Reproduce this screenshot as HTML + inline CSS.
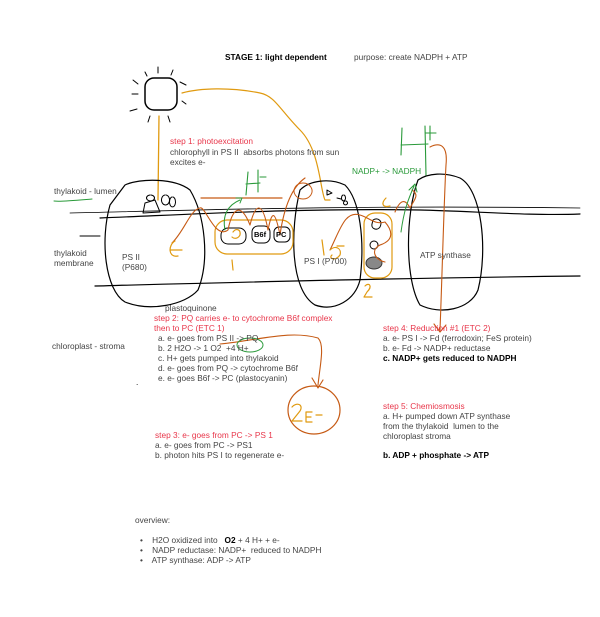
<!DOCTYPE html>
<html><head><meta charset="utf-8"><style>
body{margin:0;background:#fff;width:600px;height:617px;position:relative;overflow:hidden;font-family:"Liberation Sans",sans-serif;font-size:8.3px;color:#444}
.t{position:absolute;white-space:nowrap;line-height:10px}
.r{color:#e8364a}.g{color:#2a9a3a}.b{color:#000;font-weight:bold}
svg{position:absolute;left:0;top:0}
</style></head><body>
<svg width="600" height="617" fill="none" stroke-linecap="round" stroke-linejoin="round">
<rect x="145" y="78" width="32" height="32" rx="9" stroke="#000" stroke-width="1.5"/>
<g stroke="#000" stroke-width="1">
<line x1="145" y1="72" x2="147" y2="76"/><line x1="158" y1="67" x2="158" y2="73"/><line x1="173" y1="70" x2="171" y2="75"/>
<line x1="133" y1="80" x2="138" y2="84"/><line x1="180" y1="82" x2="186" y2="85"/><line x1="132" y1="94" x2="138" y2="94"/>
<line x1="182" y1="101" x2="186" y2="104"/><line x1="130" y1="111" x2="137" y2="109"/><line x1="150" y1="116" x2="148" y2="122"/><line x1="168" y1="116" x2="170" y2="122"/>
</g>
<path d="M159,116 L158,200" stroke="#e09a10" stroke-width="1.3"/>
<path d="M182,93 C200,88 230,87 260,93 C275,96 280,110 300,130 C320,150 320,190 325,200 L330,200" stroke="#e09a10" stroke-width="1.2"/>
<path d="M100,218 C200,214 300,208 420,210 C470,211 530,216 580,214" stroke="#000" stroke-width="1.2"/>
<path d="M70,213 C200,210 350,205 580,208" stroke="#000" stroke-width="0.8"/>
<path d="M95,286 C250,282 400,278 580,276" stroke="#000" stroke-width="1.2"/>
<path d="M80,236 L100,236" stroke="#000"/>
<path d="M54,201 C60,202 80,200 92,199" stroke="#2a9a3a"/>
<path d="M110,205 C100,240 105,290 125,302 C150,312 185,305 198,290 C210,260 205,215 190,190 C175,178 140,178 125,185 Z" stroke="#000" stroke-width="1.2"/>
<path d="M145,203 L155,200 L160,212 L143,213 Z M165,195 a4,5 0 1,0 1,0 M172,197 a3,5 0 1,0 1,0 M150,195 a4,3 0 1,0 1,0" stroke="#000"/>
<path d="M300,190 C290,230 290,290 315,305 C335,312 355,300 360,280 C365,240 360,200 345,185 C330,178 310,180 300,190 Z" stroke="#000" stroke-width="1.2"/>
<path d="M327,190 l5,3 l-5,2 z M337,198 l4,1 M343,195 a2,3 0 1,0 1,0 M345,201 a2,2 0 1,0 1,0" stroke="#000"/>
<path d="M418,180 C405,215 405,280 420,305 C440,315 470,310 478,290 C488,250 482,190 460,178 C445,172 428,173 418,180 Z" stroke="#000" stroke-width="1.2"/>
<rect x="215" y="220" width="78" height="34" rx="12" stroke="#e09a10" stroke-width="1.2"/>
<rect x="221" y="228" width="25" height="16" rx="7" stroke="#000"/>
<rect x="252" y="226" width="18" height="17" rx="6" stroke="#000"/>
<rect x="274" y="227" width="16" height="15" rx="5" stroke="#000"/>
<line x1="201" y1="198" x2="282" y2="198" stroke="#c65a14" stroke-width="1.2"/>
<rect x="364" y="213" width="28" height="65" rx="11" stroke="#e09a10" stroke-width="1.2"/>
<path d="M373,220 c5,-3 10,1 7,7 c-3,4 -9,2 -8,-3 z" stroke="#000"/><circle cx="374" cy="245" r="4" stroke="#000"/>
<ellipse cx="374" cy="263" rx="8" ry="6" fill="#888" stroke="#333"/>
<path d="M172,243 C185,230 190,210 200,208 C205,205 215,240 228,230 C232,210 240,200 250,225 C255,205 262,198 268,230 C272,210 275,210 280,235 C285,200 295,185 305,178 M330,250 C340,230 345,210 360,215 C370,218 375,225 385,222 C392,230 395,240 380,245 C370,250 375,260 385,262" stroke="#c65a14" stroke-width="1.1"/>
<path d="M395,212 C400,200 405,198 410,208 C414,200 420,195 412,190" stroke="#c65a14" stroke-width="1.1"/>
<path d="M430,147 C440,142 448,145 446,165 C444,200 442,280 440,330 M434,324 L440,332 L446,325" stroke="#c65a14" stroke-width="1.1"/>
<path d="M303,183 a9,8 0 1,0 0.1,0" stroke="#c65a14"/>
<path d="M220,344 C260,340 290,330 318,338 C325,345 320,365 318,385 M312,378 L318,388 L323,380" stroke="#c65a14" stroke-width="1.1"/>
<ellipse cx="314" cy="410" rx="26" ry="24" stroke="#c65a14" stroke-width="1.2"/>
<ellipse cx="250" cy="345" rx="13" ry="7" stroke="#2a9a3a"/>
<path d="M225,230 C222,215 228,205 240,200 M236,198 L242,198 L240,203" stroke="#2a9a3a"/>
<path d="M248,172 L246,195 M246,184 L260,183 M258,170 L258,192 M260,177 L266,177" stroke="#2a9a3a" stroke-width="1.1"/>
<path d="M402,128 L401,155 M401,145 L428,144 M425,126 L426,175 M425,133 L436,133 M430,126 L430,140" stroke="#2a9a3a" stroke-width="1.1"/>
<path d="M401,232 C404,210 408,200 414,186 M409,190 L415,184 L417,192" stroke="#2a9a3a"/>
<g stroke="#e09a10" stroke-width="1.2">
<path d="M175,241 C168,245 168,258 178,256 M170,250 L182,250"/>
<path d="M232,260 L233,270"/>
<path d="M322,240 L324,255 M330,250 C335,245 342,248 340,255 C335,262 328,258 332,255 M337,246 L344,246"/>
<path d="M365,286 c4,-4 8,0 2,6 l-3,5 h8"/>
<path d="M233,232 c3,-4 8,-3 7,3 c-2,4 -6,4 -8,2"/>
<path d="M292,407 c4,-5 12,-3 8,4 l-8,10 h10 M306,412 l0,10 M306,412 h6 M306,417 h5 M306,422 h6 M316,415 h6"/>
<path d="M386,198 c-5,5 -4,10 4,8"/>
</g>
</svg>
<div class="t b" style="left:225px;top:52px">STAGE 1: light dependent</div>
<div class="t" style="left:354px;top:52px">purpose: create NADPH + ATP</div>
<div class="t r" style="left:170px;top:136px">step 1: photoexcitation</div>
<div class="t" style="left:170px;top:147px">chlorophyll in PS II&nbsp; absorbs photons from sun</div>
<div class="t" style="left:170px;top:157px">excites e-</div>
<div class="t g" style="left:352px;top:166px">NADP+ -&gt; NADPH</div>
<div class="t" style="left:54px;top:186px">thylakoid - lumen</div>
<div class="t" style="left:54px;top:248px">thylakoid<br>membrane</div>
<div class="t" style="left:122px;top:252px">PS II<br>(P680)</div>
<div class="t b" style="left:254px;top:230px;font-size:7.5px">B6f</div>
<div class="t b" style="left:276px;top:230px;font-size:7.5px">PC</div>
<div class="t" style="left:304px;top:256px">PS I (P700)</div>
<div class="t" style="left:420px;top:250px">ATP synthase</div>
<div class="t" style="left:165px;top:303px">plastoquinone</div>
<div class="t r" style="left:154px;top:313px">step 2: PQ carries e- to cytochrome B6f complex<br>then to PC (ETC 1)</div>
<div class="t" style="left:158px;top:333px">a. e- goes from PS II -&gt; PQ<br>b. 2 H2O -&gt; 1 O2&nbsp; +4 H+<br>c. H+ gets pumped into thylakoid<br>d. e- goes from PQ -&gt; cytochrome B6f<br>e. e- goes B6f -&gt; PC (plastocyanin)</div>
<div class="t" style="left:52px;top:341px">chloroplast - stroma</div>
<div class="t r" style="left:383px;top:323px">step 4: Reduction #1 (ETC 2)</div>
<div class="t" style="left:383px;top:333px">a. e- PS I -&gt; Fd (ferrodoxin; FeS protein)<br>b. e- Fd -&gt; NADP+ reductase</div>
<div class="t b" style="left:383px;top:353px">c. NADP+ gets reduced to NADPH</div>
<div class="t r" style="left:383px;top:401px">step 5: Chemiosmosis</div>
<div class="t" style="left:383px;top:411px">a. H+ pumped down ATP synthase<br>from the thylakoid&nbsp; lumen to the<br>chloroplast stroma</div>
<div class="t b" style="left:383px;top:450px">b. ADP + phosphate -&gt; ATP</div>
<div class="t r" style="left:155px;top:430px">step 3: e- goes from PC -&gt; PS 1</div>
<div class="t" style="left:155px;top:440px">a. e- goes from PC -&gt; PS1<br>b. photon hits PS I to regenerate e-</div>
<div class="t" style="left:135px;top:515px">overview:</div>
<div class="t" style="left:140px;top:535px">•&nbsp;&nbsp;&nbsp; H2O oxidized into&nbsp;&nbsp; <b style="color:#000">O2</b> + 4 H+ + e-<br>•&nbsp;&nbsp;&nbsp; NADP reductase: NADP+&nbsp; reduced to NADPH<br>•&nbsp;&nbsp;&nbsp; ATP synthase: ADP -&gt; ATP</div>
<div class="t" style="left:136px;top:377px;color:#000">.</div>
</body></html>
